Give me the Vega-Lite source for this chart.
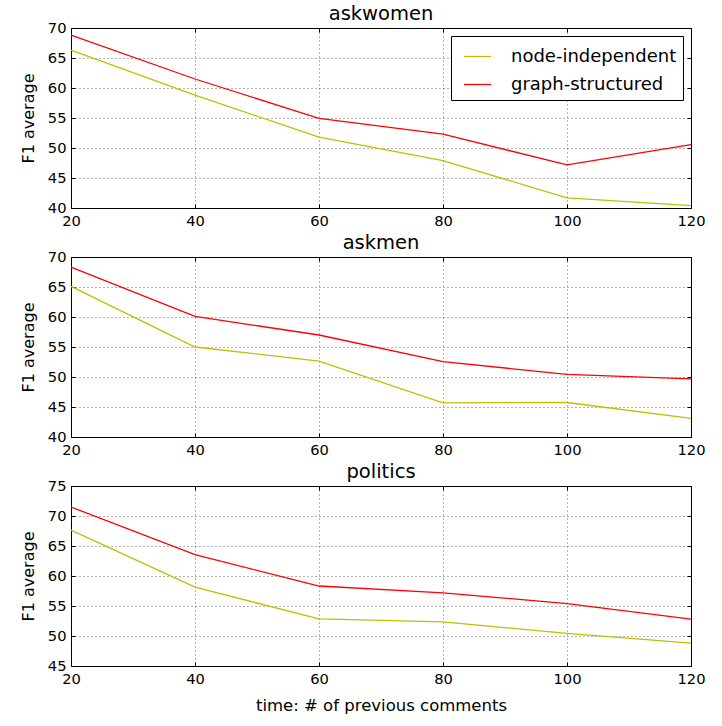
{
  "$schema": "https://vega.github.io/schema/vega-lite/v6.json",
  "padding": {"left": 19, "top": 3, "right": 5, "bottom": 5},
  "background": "white",
  "config": {
    "font": "DejaVu Sans",
    "view": {"stroke": "black", "strokeWidth": 1},
    "title": {"fontSize": 19.5, "fontWeight": "normal", "font": "DejaVu Sans", "color": "black", "offset": -4},
    "axis": {
      "labelFont": "DejaVu Sans", "labelFontSize": 14.7, "labelColor": "black",
      "titleFont": "DejaVu Sans", "titleFontSize": 16, "titleFontWeight": "normal", "titleColor": "black",
      "domain": false, "tickColor": "black", "tickSize": -4, "tickWidth": 1,
      "gridColor": "black", "gridDash": [1, 3], "gridWidth": 0.6, "gridOpacity": 1
    },
    "line": {"strokeWidth": 1.3}
  },
  "datasets": {
    "d": [
      {"sub": "askwomen", "method": "node-independent", "time": 20, "f1": 66.3},
      {"sub": "askwomen", "method": "node-independent", "time": 40, "f1": 58.8},
      {"sub": "askwomen", "method": "node-independent", "time": 60, "f1": 51.8},
      {"sub": "askwomen", "method": "node-independent", "time": 80, "f1": 47.9},
      {"sub": "askwomen", "method": "node-independent", "time": 100, "f1": 41.7},
      {"sub": "askwomen", "method": "node-independent", "time": 120, "f1": 40.4},
      {"sub": "askwomen", "method": "graph-structured", "time": 20, "f1": 68.8},
      {"sub": "askwomen", "method": "graph-structured", "time": 40, "f1": 61.5},
      {"sub": "askwomen", "method": "graph-structured", "time": 60, "f1": 54.95},
      {"sub": "askwomen", "method": "graph-structured", "time": 80, "f1": 52.3},
      {"sub": "askwomen", "method": "graph-structured", "time": 100, "f1": 47.2},
      {"sub": "askwomen", "method": "graph-structured", "time": 120, "f1": 50.55},
      {"sub": "askmen", "method": "node-independent", "time": 20, "f1": 65.1},
      {"sub": "askmen", "method": "node-independent", "time": 40, "f1": 55.0},
      {"sub": "askmen", "method": "node-independent", "time": 60, "f1": 52.65},
      {"sub": "askmen", "method": "node-independent", "time": 80, "f1": 45.7},
      {"sub": "askmen", "method": "node-independent", "time": 100, "f1": 45.75},
      {"sub": "askmen", "method": "node-independent", "time": 120, "f1": 43.1},
      {"sub": "askmen", "method": "graph-structured", "time": 20, "f1": 68.3},
      {"sub": "askmen", "method": "graph-structured", "time": 40, "f1": 60.1},
      {"sub": "askmen", "method": "graph-structured", "time": 60, "f1": 57.0},
      {"sub": "askmen", "method": "graph-structured", "time": 80, "f1": 52.55},
      {"sub": "askmen", "method": "graph-structured", "time": 100, "f1": 50.45},
      {"sub": "askmen", "method": "graph-structured", "time": 120, "f1": 49.7},
      {"sub": "politics", "method": "node-independent", "time": 20, "f1": 67.65},
      {"sub": "politics", "method": "node-independent", "time": 40, "f1": 58.15},
      {"sub": "politics", "method": "node-independent", "time": 60, "f1": 52.85},
      {"sub": "politics", "method": "node-independent", "time": 80, "f1": 52.35},
      {"sub": "politics", "method": "node-independent", "time": 100, "f1": 50.45},
      {"sub": "politics", "method": "node-independent", "time": 120, "f1": 48.8},
      {"sub": "politics", "method": "graph-structured", "time": 20, "f1": 71.5},
      {"sub": "politics", "method": "graph-structured", "time": 40, "f1": 63.55},
      {"sub": "politics", "method": "graph-structured", "time": 60, "f1": 58.33},
      {"sub": "politics", "method": "graph-structured", "time": 80, "f1": 57.2},
      {"sub": "politics", "method": "graph-structured", "time": 100, "f1": 55.4},
      {"sub": "politics", "method": "graph-structured", "time": 120, "f1": 52.8}
    ]
  },
  "data": {"name": "d"},
  "spacing": 3,
  "resolve": {"scale": {"color": "independent"}, "legend": {"color": "independent"}},
  "vconcat": [
    {
      "title": {"text": "askwomen", "fontSize": 19.5},
      "width": 620, "height": 180,
      "transform": [{"filter": "datum.sub == 'askwomen'"}],
      "layer": [
        {
          "mark": {"type": "line"},
          "encoding": {
            "x": {"field": "time", "type": "quantitative", "scale": {"domain": [20, 120], "nice": false}, "axis": {"title": null, "values": [20, 40, 60, 80, 100, 120], "labelPadding": 9, "labelFlush": false}},
            "y": {"field": "f1", "type": "quantitative", "scale": {"domain": [40, 70], "nice": false, "zero": false}, "axis": {"title": "F1 average", "values": [40, 45, 50, 55, 60, 65, 70], "labelPadding": 9, "titlePadding": 11}},
            "color": {"field": "method", "type": "nominal", "scale": {"domain": ["node-independent", "graph-structured"], "range": ["#bfbf00", "#ff0000"]},
              "legend": {"title": null, "orient": "top-right", "offset": 8, "strokeColor": "black", "fillColor": "white", "padding": 6, "symbolOffset": 6, "labelFontSize": 18, "labelFont": "DejaVu Sans", "labelColor": "black", "labelLimit": 400, "symbolType": "stroke", "symbolSize": 729, "symbolStrokeWidth": 1.3, "rowPadding": 4, "labelOffset": 19, "cornerRadius": 0}}
          }
        },
        {
          "mark": {"type": "line", "opacity": 0},
          "encoding": {
            "x": {"field": "time", "type": "quantitative", "axis": {"orient": "top", "title": null, "labels": false, "grid": false, "values": [20, 40, 60, 80, 100, 120]}},
            "y": {"field": "f1", "type": "quantitative", "axis": {"orient": "right", "title": null, "labels": false, "grid": false, "values": [40, 45, 50, 55, 60, 65, 70]}},
            "detail": {"field": "method"}
          }
        }
      ],
      "resolve": {"axis": {"x": "independent", "y": "independent"}}
    },
    {
      "title": {"text": "askmen", "fontSize": 19.5},
      "width": 620, "height": 180,
      "transform": [{"filter": "datum.sub == 'askmen'"}],
      "layer": [
        {
          "mark": {"type": "line"},
          "encoding": {
            "x": {"field": "time", "type": "quantitative", "scale": {"domain": [20, 120], "nice": false}, "axis": {"title": null, "values": [20, 40, 60, 80, 100, 120], "labelPadding": 9, "labelFlush": false}},
            "y": {"field": "f1", "type": "quantitative", "scale": {"domain": [40, 70], "nice": false, "zero": false}, "axis": {"title": "F1 average", "values": [40, 45, 50, 55, 60, 65, 70], "labelPadding": 9, "titlePadding": 11}},
            "color": {"field": "method", "type": "nominal", "scale": {"domain": ["node-independent", "graph-structured"], "range": ["#bfbf00", "#ff0000"]}, "legend": null}
          }
        },
        {
          "mark": {"type": "line", "opacity": 0},
          "encoding": {
            "x": {"field": "time", "type": "quantitative", "axis": {"orient": "top", "title": null, "labels": false, "grid": false, "values": [20, 40, 60, 80, 100, 120]}},
            "y": {"field": "f1", "type": "quantitative", "axis": {"orient": "right", "title": null, "labels": false, "grid": false, "values": [40, 45, 50, 55, 60, 65, 70]}},
            "detail": {"field": "method"}
          }
        }
      ],
      "resolve": {"axis": {"x": "independent", "y": "independent"}}
    },
    {
      "title": {"text": "politics", "fontSize": 19.5},
      "width": 620, "height": 180,
      "transform": [{"filter": "datum.sub == 'politics'"}],
      "layer": [
        {
          "mark": {"type": "line"},
          "encoding": {
            "x": {"field": "time", "type": "quantitative", "scale": {"domain": [20, 120], "nice": false}, "axis": {"title": "time: # of previous comments", "titleFontSize": 16.5, "values": [20, 40, 60, 80, 100, 120], "labelPadding": 9, "labelFlush": false, "titlePadding": 12}},
            "y": {"field": "f1", "type": "quantitative", "scale": {"domain": [45, 75], "nice": false, "zero": false}, "axis": {"title": "F1 average", "values": [45, 50, 55, 60, 65, 70, 75], "labelPadding": 9, "titlePadding": 11}},
            "color": {"field": "method", "type": "nominal", "scale": {"domain": ["node-independent", "graph-structured"], "range": ["#bfbf00", "#ff0000"]}, "legend": null}
          }
        },
        {
          "mark": {"type": "line", "opacity": 0},
          "encoding": {
            "x": {"field": "time", "type": "quantitative", "axis": {"orient": "top", "title": null, "labels": false, "grid": false, "values": [20, 40, 60, 80, 100, 120]}},
            "y": {"field": "f1", "type": "quantitative", "axis": {"orient": "right", "title": null, "labels": false, "grid": false, "values": [45, 50, 55, 60, 65, 70, 75]}},
            "detail": {"field": "method"}
          }
        }
      ],
      "resolve": {"axis": {"x": "independent", "y": "independent"}}
    }
  ]
}
